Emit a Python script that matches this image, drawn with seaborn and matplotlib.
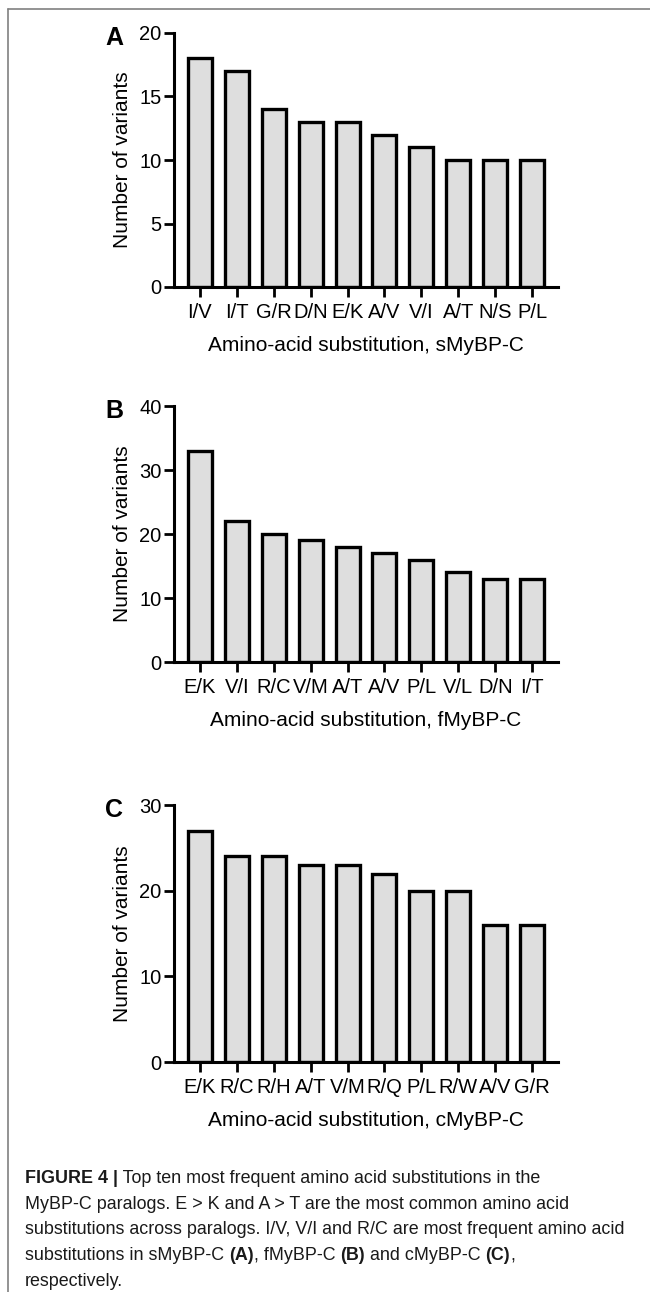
import numpy as np
import pandas as pd
import matplotlib
matplotlib.use("Agg")
import matplotlib.pyplot as plt
import seaborn as sns
from matplotlib.lines import Line2D

# --------------------------------------------------------
# data (top ten substitutions per paralog)
# --------------------------------------------------------
s_labels = ["I/V", "I/T", "G/R", "D/N", "E/K", "A/V", "V/I", "A/T", "N/S", "P/L"]
s_counts = [18, 17, 14, 13, 13, 12, 11, 10, 10, 10]

f_labels = ["E/K", "V/I", "R/C", "V/M", "A/T", "A/V", "P/L", "V/L", "D/N", "I/T"]
f_counts = [33, 22, 20, 19, 18, 17, 16, 14, 13, 13]

c_labels = ["E/K", "R/C", "R/H", "A/T", "V/M", "R/Q", "P/L", "R/W", "A/V", "G/R"]
c_counts = [27, 24, 24, 23, 23, 22, 20, 20, 16, 16]

s_yticks = [0, 5, 10, 15, 20]
f_yticks = [0, 10, 20, 30, 40]
c_yticks = [0, 10, 20, 30]

# caption lines, (text, bold) pieces
caption = [
    [("FIGURE 4 |", True), (" Top ten most frequent amino acid substitutions in the", False)],
    [("MyBP-C paralogs. E > K and A > T are the most common amino acid", False)],
    [("substitutions across paralogs. I/V, V/I and R/C are most frequent amino acid", False)],
    [("substitutions in sMyBP-C ", False), ("(A)", True), (", fMyBP-C ", False), ("(B)", True),
     (" and cMyBP-C ", False), ("(C)", True), (",", False)],
    [("respectively.", False)],
]

sns.set_theme(style="ticks")
plt.rcParams['font.family'] = ['Liberation Sans', 'DejaVu Sans']
plt.rcParams['text.color'] = 'black'
plt.rcParams['axes.labelcolor'] = 'black'

W, H = 650, 1292
fig = plt.figure(figsize=(W / 100, H / 100), dpi=100)

# panel: letter, labels, counts, paralog, ticks, axis top px, axis bottom px
panels = [
    ("A", s_labels, s_counts, "sMyBP-C", s_yticks, 33, 287),
    ("B", f_labels, f_counts, "fMyBP-C", f_yticks, 406, 662),
    ("C", c_labels, c_counts, "cMyBP-C", c_yticks, 805, 1062),
]

x0, x1 = 174, 558
for letter, labels, counts, name, ticks, top, bot in panels:
    ax = fig.add_axes([x0 / W, 1 - bot / H, (x1 - x0) / W, (bot - top) / H])
    df = pd.DataFrame({"sub": labels, "n": counts})
    sns.barplot(data=df, x="sub", y="n", order=labels, color="#dedede",
                saturation=1, edgecolor="black", linewidth=2.4, width=0.65, ax=ax)
    ax.set_xlim(-0.7, 9.7)
    ax.set_ylim(0, ticks[-1])
    ax.set_yticks(ticks)
    sns.despine(ax=ax)
    for sp in ["left", "bottom"]:
        ax.spines[sp].set_linewidth(2.2)
        ax.spines[sp].set_color("black")
    ax.tick_params(width=2, length=7.5, labelsize=14.5, colors="black")
    ax.tick_params(axis="x", pad=4)
    ax.tick_params(axis="y", pad=1.5)
    ax.set_xlabel(f"Amino-acid substitution, {name}", fontsize=15, labelpad=10)
    ax.set_ylabel("Number of variants", fontsize=15, labelpad=5)
    fig.text(105 / W, 1 - (top + 12) / H, letter, fontsize=18, fontweight="bold",
             va="baseline", ha="left")

# caption, drawn piece by piece so bold parts sit inline
renderer = fig.canvas.get_renderer()
cap_size = 12.9
for i, line in enumerate(caption):
    y = 1 - (1183 + 25.7 * i) / H
    x = 25
    for txt, bold in line:
        t = fig.text(x / W, y, txt, fontsize=cap_size, va="baseline", ha="left",
                     fontweight="bold" if bold else "normal", color="#1a1a1a")
        x += t.get_window_extent(renderer).width

# thin page frame at top and left
fig.add_artist(Line2D([8 / W, 1], [1 - 8.5 / H, 1 - 8.5 / H], color="#808080", lw=1.2))
fig.add_artist(Line2D([8 / W, 8 / W], [0, 1 - 8.5 / H], color="#808080", lw=1.2))

fig.savefig("out.png", dpi=100)
